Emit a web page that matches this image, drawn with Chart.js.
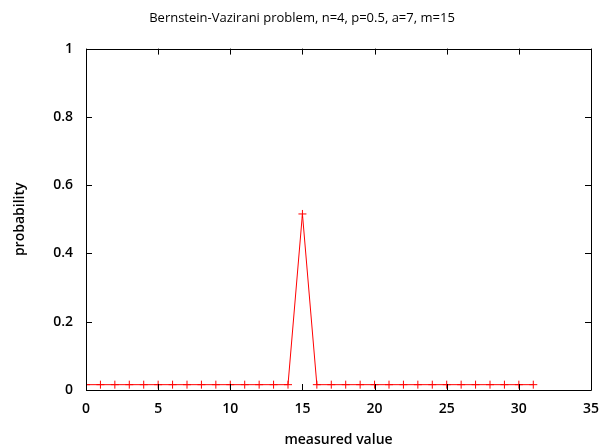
<!DOCTYPE html>
<html>
<head>
<meta charset="utf-8">
<script src="https://cdn.jsdelivr.net/npm/chart.js@4"></script>
<style>
  html, body { margin: 0; padding: 0; background: #fff; }
  #wrap { width: 604px; height: 445px; }
</style>
</head>
<body>
<div id="wrap"><canvas id="chart"></canvas></div>
<script>
const xValues = [0, 1, 2, 3, 4, 5, 6, 7, 8, 9, 10, 11, 12, 13, 14, 15, 16, 17, 18, 19, 20, 21, 22, 23, 24, 25, 26, 27, 28, 29, 30, 31]
const probabilities = [
  0.015625, 0.015625, 0.015625, 0.015625, 0.015625, 0.015625, 0.015625, 0.015625,
  0.015625, 0.015625, 0.015625, 0.015625, 0.015625, 0.015625, 0.015625, 0.515625,
  0.015625, 0.015625, 0.015625, 0.015625, 0.015625, 0.015625, 0.015625, 0.015625,
  0.015625, 0.015625, 0.015625, 0.015625, 0.015625, 0.015625, 0.015625, 0.015625
]
const xTicks = [0, 5, 10, 15, 20, 25, 30, 35]
const yTicks = [0, 0.2, 0.4, 0.6, 0.8, 1]

const FONT = 'Open Sans'
const LABEL_FONT = { family: FONT, size: 14, weight: 600 }

// gnuplot-style frame with inward ticks on all four sides
const framePlugin = {
  id: 'frame',
  afterDraw(chart) {
    const { ctx, chartArea: a, scales } = chart
    const len = 6
    ctx.save()
    ctx.strokeStyle = '#000'
    ctx.lineWidth = 1
    ctx.beginPath()
    ctx.rect(Math.round(a.left) + 0.5, Math.round(a.top) + 0.5, Math.round(a.right - a.left), Math.round(a.bottom - a.top))
    xTicks.forEach(v => {
      const px = Math.round(scales.x.getPixelForValue(v)) + 0.5
      ctx.moveTo(px, a.bottom); ctx.lineTo(px, a.bottom - len)
      ctx.moveTo(px, a.top); ctx.lineTo(px, a.top + len)
    })
    yTicks.forEach(v => {
      const py = Math.round(scales.y.getPixelForValue(v)) + 0.5
      ctx.moveTo(a.left, py); ctx.lineTo(a.left + len, py)
      ctx.moveTo(a.right, py); ctx.lineTo(a.right - len, py)
    })
    ctx.stroke()
    ctx.restore()
  }
}

new Chart(document.getElementById('chart'), {
  type: 'scatter',
  data: {
    datasets: [{
      data: xValues.map((x, i) => ({ x, y: probabilities[i] })),
      showLine: true,
      borderColor: '#ff0000',
      borderWidth: 1,
      pointStyle: 'cross',
      pointRadius: 4,
      pointBorderColor: '#ff0000',
      pointBorderWidth: 1,
      pointHoverRadius: 4
    }]
  },
  options: {
    responsive: true,
    maintainAspectRatio: false,
    animation: false,
    layout: { padding: { left: 0, right: 0, top: 0, bottom: 0 } },
    plugins: {
      legend: { display: false },
      tooltip: { enabled: false },
      title: {
        display: true,
        text: 'Bernstein-Vazirani problem, n=4, p=0.5, a=7, m=15',
        color: '#000',
        font: { family: FONT, size: 13, weight: 500 },
        padding: { top: 10, bottom: 23 }
      }
    },
    scales: {
      x: {
        type: 'linear',
        min: 0, max: 35,
        afterBuildTicks: s => { s.ticks = xTicks.map(v => ({ value: v })) },
        grid: { display: false, drawTicks: false },
        border: { display: false },
        ticks: { color: '#000', font: LABEL_FONT, padding: 11, maxRotation: 0 },
        title: { display: true, text: 'measured value', color: '#000', font: LABEL_FONT, padding: { top: 12, bottom: -3 } },
        afterFit: s => { s.height = 55; s.paddingRight = 13 }
      },
      y: {
        min: 0, max: 1,
        afterBuildTicks: s => { s.ticks = yTicks.map(v => ({ value: v })) },
        grid: { display: false, drawTicks: false },
        border: { display: false },
        ticks: { color: '#000', font: LABEL_FONT, padding: 13, callback: v => String(+v.toFixed(1)) },
        title: { display: true, text: 'probability', color: '#000', font: LABEL_FONT, padding: { top: 12, bottom: 0 } },
        afterFit: s => { s.width = 86 }
      }
    }
  },
  plugins: [framePlugin]
})
</script>
</body>
</html>
